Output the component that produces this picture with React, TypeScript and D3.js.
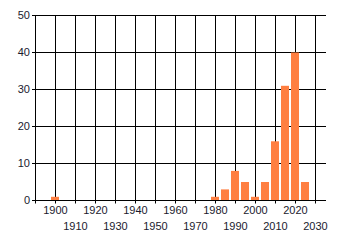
import React from "react";
import * as d3 from "d3";

const binYears = [1900, 1980, 1985, 1990, 1995, 2000, 2005, 2010, 2015, 2020, 2025];
const binCounts = [1, 1, 3, 8, 5, 1, 5, 16, 31, 40, 5];
const xTicks = [1900, 1910, 1920, 1930, 1940, 1950, 1960, 1970, 1980, 1990, 2000, 2010, 2020, 2030];
const yTicks = [0, 10, 20, 30, 40, 50];

export default function App() {
  const W = 340, H = 245;
  const x = d3.scaleLinear().domain([1890, 2035]).range([35, 325]);
  const y = d3.scaleLinear().domain([0, 50]).range([200.5, 15.5]);
  const font = "'Liberation Sans', Arial, sans-serif";
  const crisp = (v: number) => Math.round(v - 0.5) + 0.5;
  const left = x(1890);
  const right = x(2035) + 1;
  const bottom = y(0);
  return (
    <svg width={W} height={H} style={{ position: "absolute", left: 0, top: 0, background: "#fff" }}>
      {yTicks.map((t) => (
        <g key={t}>
          <line x1={left - 3} x2={right} y1={crisp(y(t))} y2={crisp(y(t))} stroke="#000" strokeWidth={1} />
          <text x={30} y={y(t)} dy="0.35em" textAnchor="end" fontFamily={font} fontSize={11} fill="#1a1a2e">
            {t}
          </text>
        </g>
      ))}
      <line x1={left + 0.5} x2={left + 0.5} y1={y(50)} y2={bottom + 3} stroke="#000" />
      {xTicks.map((t, i) => (
        <g key={t}>
          <line x1={x(t) + 0.5} x2={x(t) + 0.5} y1={y(50)} y2={bottom + 3} stroke="#000" />
          <text
            x={x(t) + 0.5}
            y={i % 2 === 0 ? 210.5 : 226}
            dy="0.35em"
            textAnchor="middle"
            fontFamily={font}
            fontSize={11}
            fill="#1a1a2e"
          >
            {t}
          </text>
        </g>
      ))}
      {binYears.map((yr, i) => (
        <rect
          key={yr}
          x={x(yr - 2)}
          width={x(yr + 2) - x(yr - 2)}
          y={y(binCounts[i])}
          height={y(0) - y(binCounts[i])}
          fill="#FF7F41"
        />
      ))}
      <line x1={left - 2} x2={right} y1={crisp(bottom)} y2={crisp(bottom)} stroke="#000" />
    </svg>
  );
}
